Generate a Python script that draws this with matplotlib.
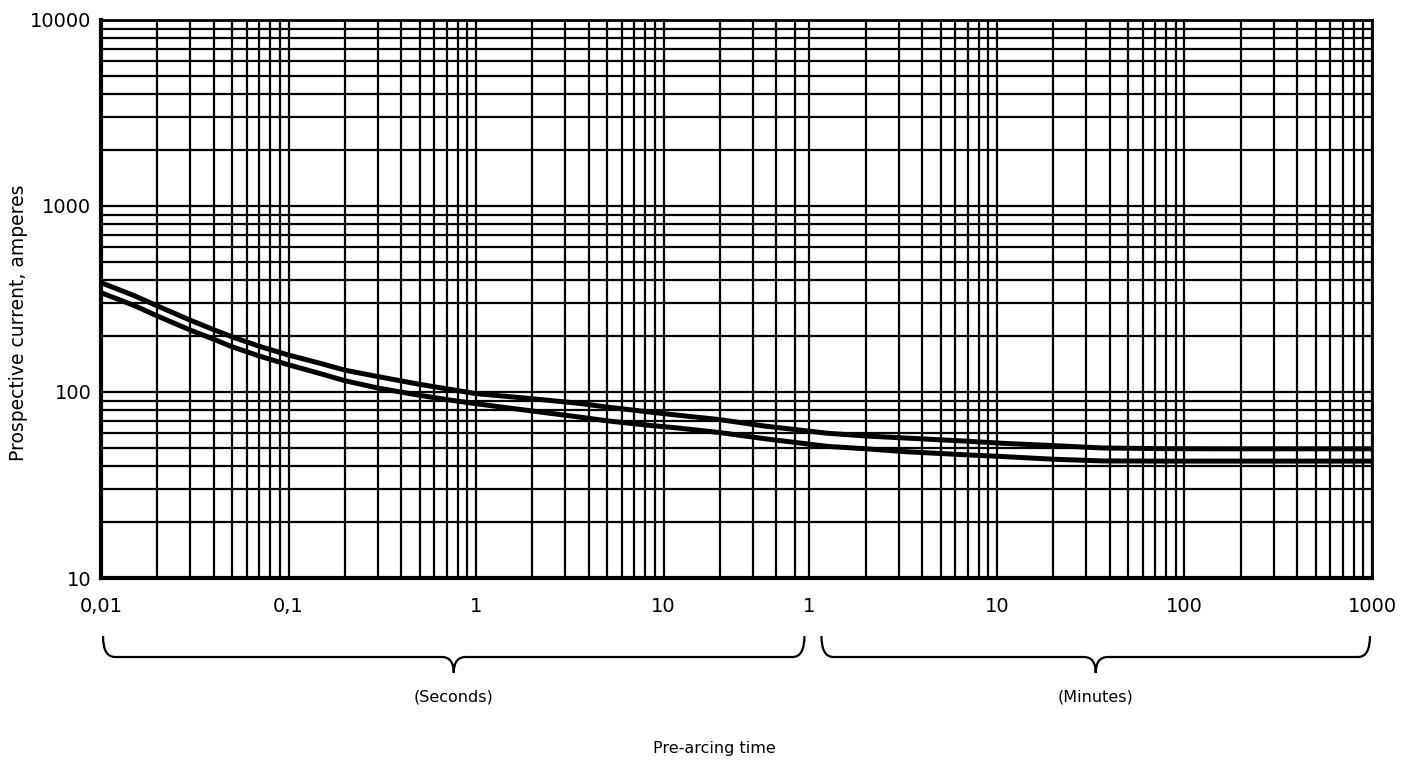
import numpy as np
import matplotlib
matplotlib.use('Agg')
import matplotlib.pyplot as plt
from matplotlib.path import Path
from matplotlib.patches import PathPatch

# pre-arcing time in seconds
t_upper = [0.01, 0.015, 0.02, 0.03, 0.04, 0.05, 0.07, 0.1, 0.15, 0.2, 0.3, 0.5, 0.7, 1, 2, 3.5, 5, 8,
           12, 20, 35, 75, 120, 200, 400, 640, 1200, 2200, 4500, 10000, 60000]
i_upper = [387, 330, 290, 243, 216, 198, 176, 158, 142, 131, 121, 110, 104, 98, 92, 87, 83, 78.5,
           75, 71, 65.5, 60, 58, 56.5, 54.5, 53, 51.5, 50, 49.6, 49.5, 49.5]

t_lower = [0.01, 0.015, 0.02, 0.03, 0.04, 0.05, 0.07, 0.1, 0.15, 0.2, 0.3, 0.5, 0.7, 1, 2, 3.5, 5, 8,
           12, 20, 35, 75, 120, 200, 400, 640, 1200, 2200, 4500, 10000, 60000]
i_lower = [342, 292, 256, 215, 192, 175, 156, 140, 125, 115, 105, 96, 91, 86.5, 79, 73.5, 70, 66.5,
           64, 60.5, 56, 51, 49.5, 47.7, 46, 45, 43.5, 42.6, 42.5, 42.5, 42.5]

# tick positions (seconds) and their labels; minutes start at 60 s
x_ticks = [0.01, 0.1, 1, 10, 60, 600, 6000, 60000]
x_labels = ['0,01', '0,1', '1', '10', '1', '10', '100', '1000']
y_ticks = [10, 100, 1000, 10000]
y_labels = ['10', '100', '1000', '10000']

W, H = 1418, 762
fig = plt.figure(figsize=(W / 100, H / 100), dpi=100)
ax = fig.add_axes([101 / W, 1 - 578 / H, (1372 - 101) / W, (578 - 20) / H])

ax.set_xscale('log')
ax.set_yscale('log')
ax.set_xlim(0.01, 60000)
ax.set_ylim(10, 10000)

# grid lines: seconds decades, then 10-50 s, then minute decades
grid_x = []
for d in [0.01, 0.1, 1]:
    grid_x += [k * d for k in range(1, 10)]
grid_x += [10, 20, 30, 40, 50]
for d in [1, 10, 100]:
    grid_x += [k * d * 60 for k in range(1, 10)]
grid_x.append(60000)
grid_y = [k * d for d in [10, 100, 1000] for k in range(1, 10)] + [10000]

ax.set_xticks(grid_x, minor=True)
ax.set_yticks(grid_y, minor=True)
ax.set_xticks(x_ticks)
ax.set_xticklabels(x_labels)
ax.set_yticks(y_ticks)
ax.set_yticklabels(y_labels)
ax.xaxis.set_minor_formatter(matplotlib.ticker.NullFormatter())
ax.yaxis.set_minor_formatter(matplotlib.ticker.NullFormatter())
ax.tick_params(which='both', length=0)
ax.tick_params(axis='x', pad=14, labelsize=14)
ax.tick_params(axis='y', pad=7, labelsize=14)
ax.grid(which='both', color='black', lw=1.6)
for sp in ax.spines.values():
    sp.set_linewidth(2)
ax.spines['bottom'].set_linewidth(3)
ax.spines['left'].set_linewidth(3)

ax.plot(t_upper, i_upper, color='black', lw=3.6, zorder=5)
ax.plot(t_lower, i_lower, color='black', lw=3.6, zorder=5)

fig.text(19 / W, 1 - 323 / H, 'Prospective current, amperes', rotation=90,
         ha='center', va='center', fontsize=13.5)


def brace(x0, x1, y_top=636, y_mid=657, y_tip=673):
    """Curly brace in pixel coordinates, converted to figure fraction."""
    xm = (x0 + x1) / 2
    r = 12
    pts = [(x0, y_top), (x0, y_mid), (x0 + r, y_mid),
           (xm - r, y_mid), (xm, y_mid), (xm, y_tip),
           (xm, y_mid), (xm + r, y_mid),
           (x1 - r, y_mid), (x1, y_mid), (x1, y_top)]
    codes = [Path.MOVETO, Path.CURVE3, Path.CURVE3,
             Path.LINETO, Path.CURVE3, Path.CURVE3,
             Path.CURVE3, Path.CURVE3,
             Path.LINETO, Path.CURVE3, Path.CURVE3]
    verts = [(px / W, 1 - py / H) for px, py in pts]
    fig.patches.append(PathPatch(Path(verts, codes), fill=False, lw=1.6,
                                 color='black', transform=fig.transFigure))
    return xm


def to_px(t):
    return ax.transData.transform((t, 10))[0]


fig.canvas.draw()
sx = brace(to_px(0.01) + 2, to_px(60) - 5)
mx = brace(to_px(60) + 12, to_px(60000) - 2)

fig.text(sx / W, 1 - 697 / H, '(Seconds)', ha='center', va='center', fontsize=11.5)
fig.text(mx / W, 1 - 697 / H, '(Minutes)', ha='center', va='center', fontsize=11.5)
fig.text(714 / W, 1 - 748 / H, 'Pre-arcing time', ha='center', va='center', fontsize=11.5)

fig.savefig('out.png', dpi=100)
